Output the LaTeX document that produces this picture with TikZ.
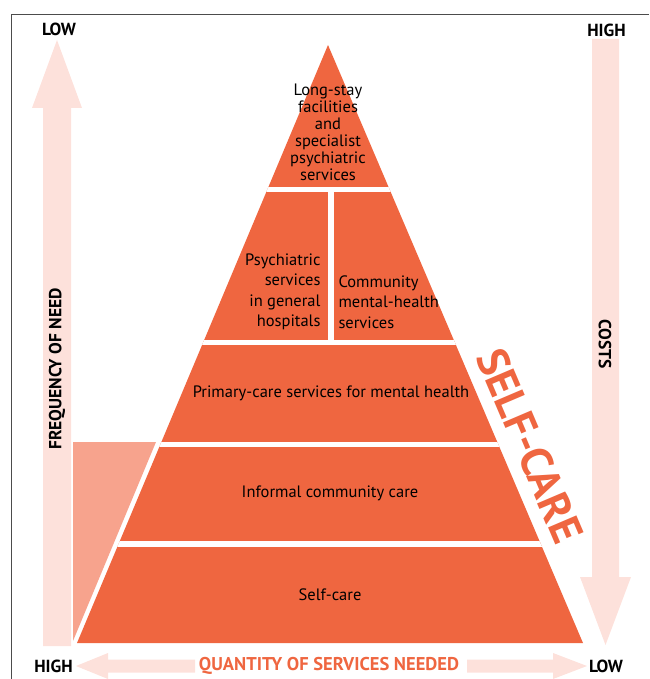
\documentclass[tikz,border=0pt]{standalone}
\usepackage{fontspec}
\setmainfont{PT Sans}
\definecolor{tierorange}{HTML}{EF6640}
\definecolor{tierlight}{HTML}{F7A38D}
\definecolor{arrowpale}{HTML}{FDE1DB}

\begin{document}
\begin{tikzpicture}[x=1pt, y=-1pt,
  tier/.style = {fill=tierorange},
  gap/.style = {draw=white, line width=5.5pt},
  pale/.style = {fill=arrowpale},
  tiertext/.style = {font=\fontsize{16.5}{17}\selectfont, align=center, text=black},
  axislabel/.style = {font=\fontsize{17.5}{17.5}\selectfont\bfseries, text=black},
  endlabel/.style = {font=\fontsize{17.5}{17.5}\selectfont\bfseries, text=black}]

    \useasboundingbox (0,0) rectangle (649,679);
    \draw[black!70, line width=1pt] (11,679) -- (11,15) -- (649,15);

    % pale arrows
    \fill[pale] (57,40) -- (82,108) -- (71,108) -- (71,646) -- (43,646) -- (43,108) -- (32,108) -- cycle;
    \fill[pale] (592,39) -- (619,39) -- (619,577) -- (631,577) -- (605.5,645) -- (580,577) -- (592,577) -- cycle;
    \fill[pale] (76,666) -- (108,653) -- (108,659.5) -- (195,659.5) -- (195,672.5) -- (108,672.5) -- (108,679) -- cycle;
    \fill[pale] (587,666) -- (553,653) -- (553,659.5) -- (467,659.5) -- (467,672.5) -- (553,672.5) -- (553,679) -- cycle;

    % pyramid
    \begin{scope}
        \clip (328,45) -- (583,643) -- (77,643) -- cycle;
        \fill[tier] (0,0) rectangle (649,679);
        \draw[gap] (0,189.5) -- (649,189.5);
        \draw[gap] (0,342.5) -- (649,342.5);
        \draw[gap] (0,444.5) -- (649,444.5);
        \draw[gap] (0,544) -- (649,544);
        \draw[gap] (330.8,189) -- (330.8,343);
    \end{scope}
    \fill[tierlight] (73,442) -- (156,442) -- (73,641) -- cycle;

    \node[tiertext] (longstay) at (328,132) {Long-stay\\facilities\\and\\specialist\\psychiatric\\services};
    \node[tiertext, align=right, anchor=east, font=\fontsize{16.5}{20.5}\selectfont] (hospital) at (324,292) {Psychiatric\\services\\in general\\hospitals};
    \node[tiertext, align=left, anchor=west, font=\fontsize{16.5}{20.5}\selectfont] (community) at (335,302) {Community\\mental-health\\services};
    \node[tiertext] (primary) at (331,393) {Primary-care services for mental health};
    \node[tiertext] (informal) at (330,493) {Informal community care};
    \node[tiertext] (self) at (330,595) {Self-care};

    \node[font=\fontsize{44}{44}\selectfont\bfseries, text=tierorange, rotate=-66.9, inner sep=0pt] (selfcare) at (530,446) {SELF-CARE};

    \node[axislabel, rotate=90] (frequency) at (57,369) {FREQUENCY OF NEED};
    \node[axislabel, rotate=-90] (costs) at (605,344) {COSTS};
    \node[font=\fontsize{18.5}{18.5}\selectfont\bfseries, text=tierorange] (quantity) at (329,666) {QUANTITY OF SERVICES NEEDED};

    \node[endlabel] (lowtop) at (59,29) {LOW};
    \node[endlabel] (hightop) at (606.5,30) {HIGH};
    \node[endlabel] (highbottom) at (53.5,666) {HIGH};
    \node[endlabel] (lowbottom) at (606,666) {LOW};

\end{tikzpicture}
\end{document}
